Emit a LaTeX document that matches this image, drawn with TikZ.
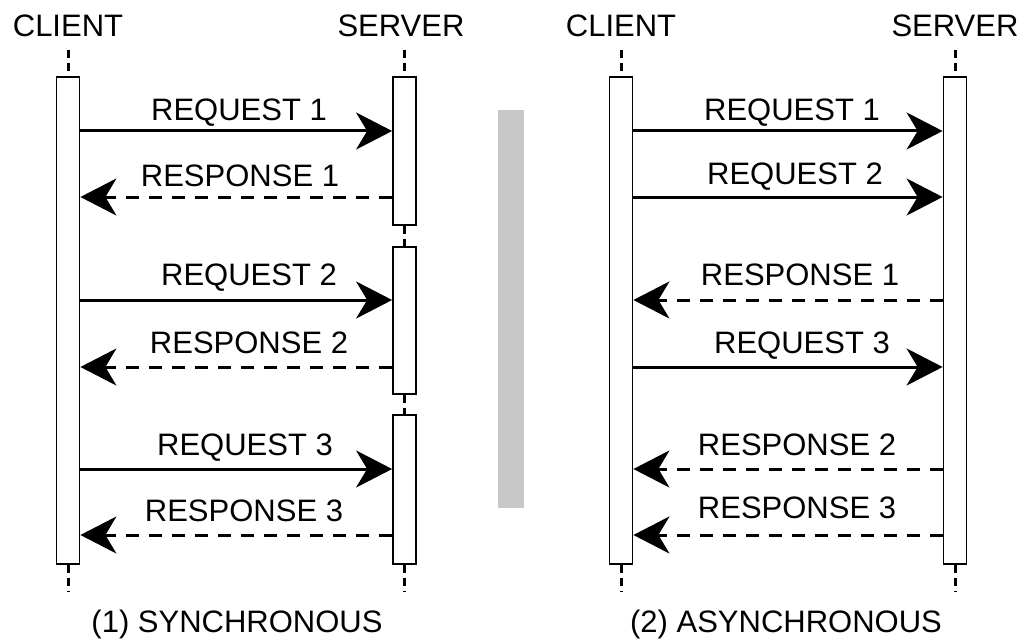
\documentclass[tikz,border=0pt]{standalone}
\usepackage{fontspec}
\setmainfont{Liberation Sans}
\usetikzlibrary{arrows.meta}

\begin{document}
\begin{tikzpicture}[x=1pt,y=-1pt,
  lifebox/.style={draw=black, line width=1.8pt, fill=white, minimum width=23pt,
                  inner sep=0pt, anchor=north},
  lifeline/.style={line width=3pt, dash pattern=on 8pt off 5pt},
  req/.style={line width=3pt, -{Stealth[length=36pt,width=37pt,inset=11pt]}},
  resp/.style={req, dash pattern=on 13pt off 10pt},
  txt/.style={font=\fontsize{31}{31}\selectfont, inner sep=0pt, anchor=base},
]
\useasboundingbox (0,0) rectangle (1024,639);

% ---------- separator ----------
\fill[black!22] (498,110) rectangle (524,508);

% ---------- (1) synchronous ----------
\node[txt] (lct) at (68,37) {CLIENT};
\node[txt] (lst) at (401,37) {SERVER};

\node[lifebox, minimum height=487pt] (lc) at (68,76) {};
\node[lifebox, minimum height=148pt] (ls1) at (404.5,76) {};
\node[lifebox, minimum height=147pt] (ls2) at (404.5,246) {};
\node[lifebox, minimum height=149pt] (ls3) at (404.5,414) {};

\draw[lifeline] (68,50) -- (lc.north);
\draw[lifeline] (lc.south) -- (68,592);
\draw[lifeline] (404.5,50) -- (ls1.north);
\draw[lifeline] (ls1.south) -- (ls2.north);
\draw[lifeline] (ls2.south) -- (ls3.north);
\draw[lifeline] (ls3.south) -- (404.5,592);

\draw[req]  (lc.east |- 0,131) -- (ls1.west |- 0,131);
\draw[resp] (ls1.west |- 0,197) -- (lc.east |- 0,197);
\draw[req]  (lc.east |- 0,300) -- (ls2.west |- 0,300);
\draw[resp] (ls2.west |- 0,367) -- (lc.east |- 0,367);
\draw[req]  (lc.east |- 0,469) -- (ls3.west |- 0,469);
\draw[resp] (ls3.west |- 0,535) -- (lc.east |- 0,535);

\node[txt] (l1) at (239,121) {REQUEST 1};
\node[txt] (l2) at (240,186) {RESPONSE 1};
\node[txt] (l3) at (249,285) {REQUEST 2};
\node[txt] (l4) at (249,353) {RESPONSE 2};
\node[txt] (l5) at (245,455) {REQUEST 3};
\node[txt] (l6) at (244,521) {RESPONSE 3};

\node[txt] (lcap) at (237,632) {(1) SYNCHRONOUS};

% ---------- (2) asynchronous ----------
\node[txt] (rct) at (621,37) {CLIENT};
\node[txt] (rst) at (955,37) {SERVER};

\node[lifebox, minimum height=487pt] (rc) at (621,76) {};
\node[lifebox, minimum height=487pt] (rs) at (955,76) {};

\draw[lifeline] (621,50) -- (rc.north);
\draw[lifeline] (rc.south) -- (621,592);
\draw[lifeline] (955,50) -- (rs.north);
\draw[lifeline] (rs.south) -- (955,592);

\draw[req]  (rc.east |- 0,131) -- (rs.west |- 0,131);
\draw[req]  (rc.east |- 0,197) -- (rs.west |- 0,197);
\draw[resp] (rs.west |- 0,300) -- (rc.east |- 0,300);
\draw[req]  (rc.east |- 0,367) -- (rs.west |- 0,367);
\draw[resp] (rs.west |- 0,469) -- (rc.east |- 0,469);
\draw[resp] (rs.west |- 0,535) -- (rc.east |- 0,535);

\node[txt] (r1) at (792,121) {REQUEST 1};
\node[txt] (r2) at (795,185) {REQUEST 2};
\node[txt] (r3) at (800,285) {RESPONSE 1};
\node[txt] (r4) at (802,353) {REQUEST 3};
\node[txt] (r5) at (797,455) {RESPONSE 2};
\node[txt] (r6) at (797,518) {RESPONSE 3};

\node[txt] (rcap) at (786,632) {(2) ASYNCHRONOUS};
\end{tikzpicture}
\end{document}
